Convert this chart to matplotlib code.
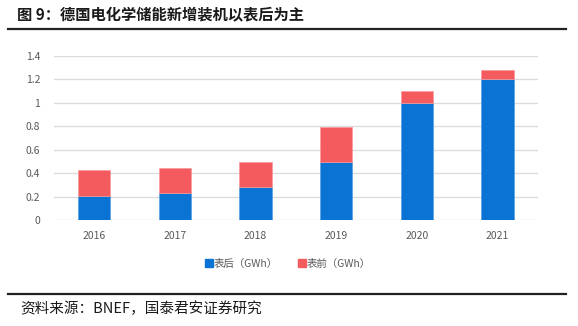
import matplotlib
matplotlib.use("Agg")
import matplotlib.pyplot as plt
from matplotlib.lines import Line2D
import numpy as np

plt.rcParams['font.family'] = ['Noto Sans CJK SC', 'DejaVu Sans']

years = ["2016", "2017", "2018", "2019", "2020", "2021"]
behind_meter = [0.21, 0.235, 0.28, 0.50, 1.00, 1.20]   # 表后 (GWh)
front_meter = [0.215, 0.21, 0.22, 0.29, 0.10, 0.08]    # 表前 (GWh)
yticks = [0, 0.2, 0.4, 0.6, 0.8, 1, 1.2, 1.4]
ytick_labels = ["0", "0.2", "0.4", "0.6", "0.8", "1", "1.2", "1.4"]

title = "图 9：德国电化学储能新增装机以表后为主"
source = "资料来源：BNEF，国泰君安证券研究"
series_names = ["表后（GWh）", "表前（GWh）"]

blue = "#0A73D4"
red = "#F45B5E"
tick_color = "#595959"

fig = plt.figure(figsize=(5.78, 3.26), dpi=100)
ax = fig.add_axes([54 / 578, 1 - 220.3 / 326, (537.7 - 54) / 578, (220.3 - 55.7) / 326])

x = np.arange(len(years))
w = 0.4
ax.bar(x, behind_meter, w, color=blue, edgecolor="#5A9FE0", linewidth=0.5, zorder=3)
ax.bar(x, front_meter, w, bottom=behind_meter, color=red, edgecolor="#F99A9C",
       linewidth=0.5, zorder=3)

ax.set_xlim(-0.5, len(years) - 0.5)
ax.set_ylim(0, 1.4)
ax.set_yticks(yticks)
ax.set_yticklabels(ytick_labels)
ax.set_xticks(x)
ax.set_xticklabels(years)
ax.tick_params(axis="both", length=0, labelsize=7.5, colors=tick_color)
ax.tick_params(axis="y", pad=10)
ax.tick_params(axis="x", pad=8)
ax.grid(axis="y", color="#DCDCDC", linewidth=1, zorder=0)
for s in ax.spines.values():
    s.set_visible(False)

handles = [Line2D([], [], marker="s", linestyle="none", markersize=5.5, color=blue),
           Line2D([], [], marker="s", linestyle="none", markersize=5.5, color=red)]
fig.legend(handles, series_names, loc="center", bbox_to_anchor=(0.497, 1 - 264 / 326),
           ncol=2, frameon=False, fontsize=7.5, handletextpad=0.0, columnspacing=1.8,
           handlelength=1.0, labelcolor=tick_color)

fig.text(17 / 578, 1 - 15 / 326, title, fontsize=11, fontweight="bold",
         va="center", ha="left", color="#1A1A1A")
fig.add_artist(Line2D([8 / 578, 566 / 578], [1 - 28.5 / 326] * 2, color="#222222",
                      linewidth=1.6))
fig.add_artist(Line2D([8 / 578, 566 / 578], [1 - 294.3 / 326] * 2, color="#222222",
                      linewidth=1.6))
fig.text(20 / 578, 1 - 309 / 326, source, fontsize=10.5, va="center", ha="left",
         color="#1A1A1A")

fig.savefig("out.png", dpi=100)
